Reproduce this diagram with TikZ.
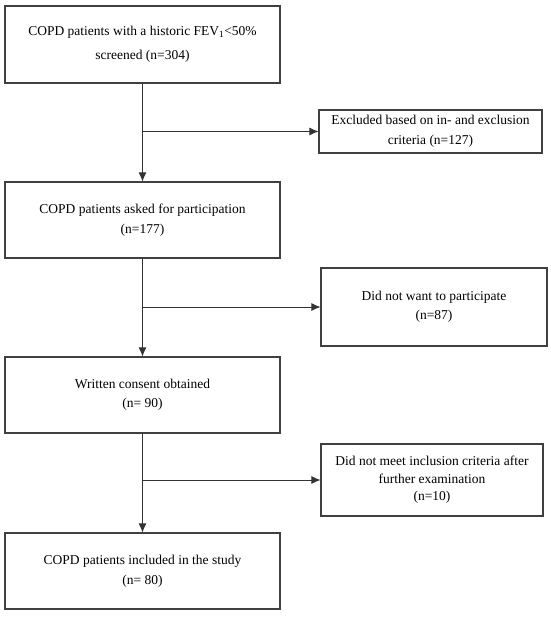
\documentclass[tikz,border=0pt]{standalone}
\usepackage{fontspec}
\setmainfont{Liberation Serif}
\usetikzlibrary{arrows.meta}
\begin{document}
\begin{tikzpicture}[x=1pt,y=1pt,
  box/.style={draw=black!75, line width=1.1pt, rectangle, align=center, inner sep=2pt, font=\fontsize{13.5}{19.5}\selectfont, text=black},
  conn/.style={draw=black!80, line width=0.8pt, -{Latex[length=9pt,width=8pt]}}]
\useasboundingbox (0,0) rectangle (550,-617);
\node[box, minimum width=275pt, minimum height=77pt, font=\fontsize{13.5}{24}\selectfont] (b1) at (142.5,-44.5) {COPD patients with a historic FEV\textsubscript{1}<50\%\\screened (n=304)};
\node[box, minimum width=223pt, minimum height=43pt] (b2) at (430.5,-131.5) {Excluded based on in- and exclusion\\criteria (n=127)};
\node[box, minimum width=275pt, minimum height=76pt] (b3) at (142.5,-220) {COPD patients asked for participation\\(n=177)};
\node[box, minimum width=226pt, minimum height=78pt] (b4) at (434,-307) {Did not want to participate\\(n=87)};
\node[box, minimum width=275pt, minimum height=76pt] (b5) at (142.5,-395) {Written consent obtained\\(n= 90)};
\node[box, minimum width=222pt, minimum height=72pt, font=\fontsize{13.5}{17.5}\selectfont] (b6) at (432,-480) {Did not meet inclusion criteria after\\further examination\\(n=10)};
\node[box, minimum width=275pt, minimum height=76pt] (b7) at (142.5,-571) {COPD patients included in the study\\(n= 80)};
\draw[conn] (b1.south) -- (b3.north);
\draw[conn] (b1.south |- b2.west) -- (b2.west);
\draw[conn] (b3.south) -- (b5.north);
\draw[conn] (b3.south |- b4.west) -- (b4.west);
\draw[conn] (b5.south) -- (b7.north);
\draw[conn] (b5.south |- b6.west) -- (b6.west);
\end{tikzpicture}
\end{document}
